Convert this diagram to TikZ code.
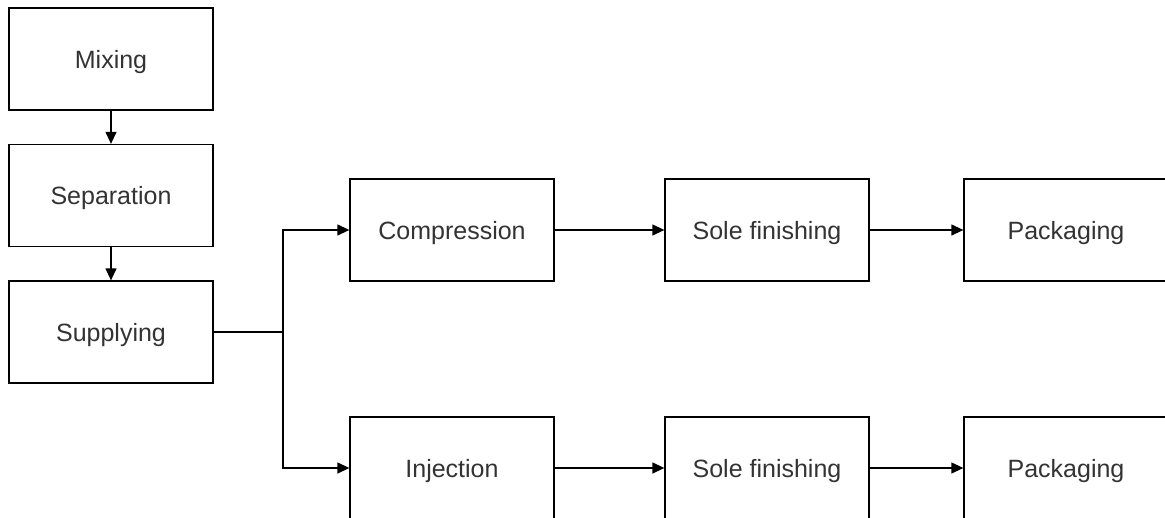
\documentclass[tikz,border=0pt]{standalone}
\usepackage{fontspec}
\setmainfont{Liberation Sans}
\usetikzlibrary{arrows.meta}
\definecolor{txt}{HTML}{333333}
\begin{document}
\begin{tikzpicture}[x=1pt,y=-1pt,
  stage/.style={draw=black, line width=1.3pt, fill=white, rectangle,
    minimum width=204pt, minimum height=102pt, inner sep=0pt,
    text height=18pt, text depth=0pt,
    font=\fontsize{25}{28}\selectfont, text=txt},
  flow/.style={draw=black, line width=1.3pt, -{Triangle[length=12pt,width=11pt]}},
  plain/.style={draw=black, line width=1.3pt}]
\useasboundingbox (0,0) rectangle (1165,517);
\clip (0,0) rectangle (1165,517);
\fill[white] (0,0) rectangle (1165,517);

% preparation column
\node[stage] (mix) at (111,59) {Mixing};
\node[stage] (sep) at (111,195.5) {Separation};
\node[stage] (sup) at (111,332) {Supplying};

% compression line
\node[stage] (comp) at (452,230) {Compression};
\node[stage] (sole1) at (767,230) {Sole finishing};
\node[stage] (pack1) at (1066,230) {Packaging};

% injection line
\node[stage] (inj) at (452,468) {Injection};
\node[stage] (sole2) at (767,468) {Sole finishing};
\node[stage] (pack2) at (1066,468) {Packaging};

\coordinate (split) at (283,332);

\draw[flow] (mix) -- (sep);
\draw[flow] (sep) -- (sup);
\draw[plain] (sup.east) -- (split);
\draw[flow] (split) |- (comp.west);
\draw[flow] (split) |- (inj.west);
\draw[flow] (comp) -- (sole1);
\draw[flow] (sole1) -- (pack1);
\draw[flow] (inj) -- (sole2);
\draw[flow] (sole2) -- (pack2);
\end{tikzpicture}
\end{document}
